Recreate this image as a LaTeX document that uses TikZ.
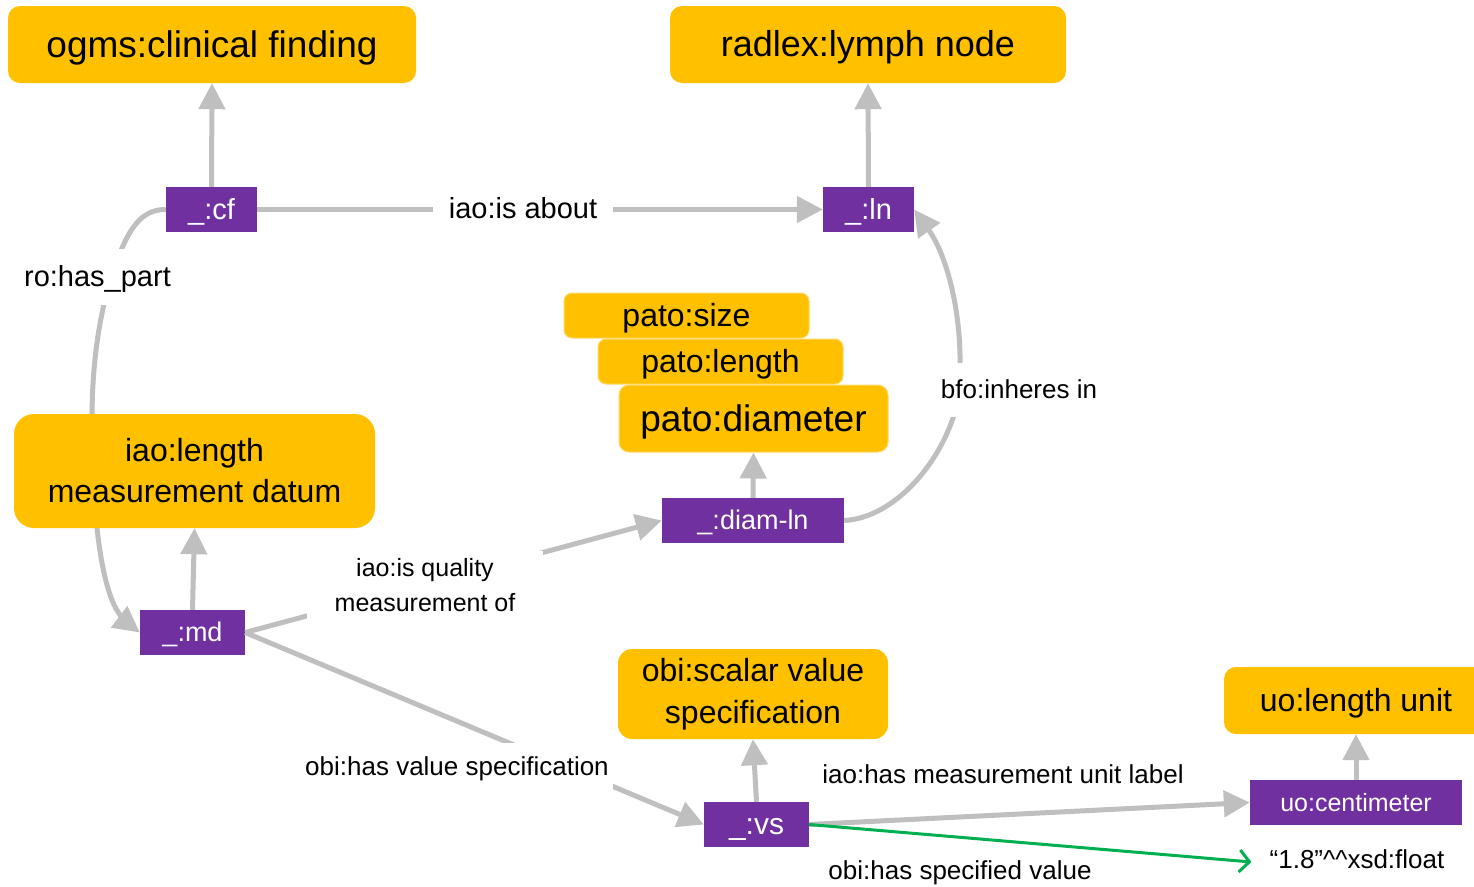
\documentclass[tikz,border=0pt]{standalone}
\usepackage{fontspec}
\setmainfont{Liberation Sans}
\usetikzlibrary{arrows.meta}
\definecolor{gold}{HTML}{FFC000}
\definecolor{goldedge}{HTML}{FFD966}
\definecolor{purp}{HTML}{7030A0}
\definecolor{edgegray}{HTML}{BFBFBF}
\definecolor{grn}{HTML}{00B050}
\tikzset{
  cls/.style={fill=gold, inner sep=0pt, text=black},
  inst/.style={fill=purp, inner sep=0pt, text=white, minimum height=45pt},
  rel/.style={draw=edgegray, line width=5pt, -{Triangle[length=26pt,width=26pt]}},
  greenrel/.style={draw=grn, line width=3pt, -{Straight Barb[length=10pt,width=22pt,line width=3pt]}},
  lab/.style={fill=white, inner sep=0pt, text=black, align=center},
  fs/.style={font=\fontsize{#1}{#1}\selectfont, text height=#1*0.9pt, text depth=#1*0.22pt},
}
\begin{document}
\begin{tikzpicture}[x=1pt,y=-1pt]
\useasboundingbox (0,0) rectangle (1474,886);

% class boxes
\node[cls, rounded corners=12pt, minimum width=408pt, minimum height=77pt, fs=37] (ogms) at (212,44.5) {ogms:clinical finding};
\node[cls, rounded corners=12pt, minimum width=396pt, minimum height=77pt, fs=36] (radlex) at (868,44.5) {radlex:lymph\ node};
\node[cls, rounded corners=8pt, draw=goldedge, line width=1pt, minimum width=245pt, minimum height=45pt, fs=32] (psize) at (686.5,315.5) {pato:size};
\node[cls, rounded corners=8pt, draw=goldedge, line width=1pt, minimum width=245pt, minimum height=45pt, fs=32] (plength) at (720.5,361.5) {pato:length};
\node[cls, rounded corners=10pt, draw=goldedge, line width=1pt, minimum width=269pt, minimum height=67pt, fs=37] (pdiam) at (753.5,418.5) {pato:diameter};
\node[cls, rounded corners=14pt, minimum width=270pt, minimum height=90pt, align=center, font=\fontsize{32}{42}\selectfont] (scalar) at (753,694) {obi:scalar value\\specification};
\node[cls, rounded corners=12pt, minimum width=264pt, minimum height=67pt, fs=32] (lenunit) at (1356,700.5) {uo:length unit};

% instance boxes
\node[inst, minimum width=91pt, fs=29] (cf) at (211.5,209.5) {\_:cf};
\node[inst, minimum width=91pt, fs=29] (ln) at (868.5,209.5) {\_:ln};
\node[inst, minimum width=105pt, fs=27] (md) at (192.5,632.5) {\_:md};
\node[inst, minimum width=182pt, fs=27] (diam) at (753,520.5) {\_:diam-ln};
\node[inst, minimum width=105pt, fs=30] (vs) at (756.5,824.5) {\_:vs};
\node[inst, minimum width=212pt, fs=25] (cm) at (1356,802.5) {uo:centimeter};
\node[inner xsep=18pt, inner ysep=0pt, fs=26] (val) at (1357,860) {“1.8”\textasciicircum\textasciicircum xsd:float};

% ro:has_part curve (behind iao:length box)
\draw[rel] (cf.west) .. controls (140,209) and (128,232) .. (118,258)
  .. controls (100,305) and (92,360) .. (92,420)
  .. controls (92,510) and (100,570) .. (112,600)
  .. controls (117,613) and (126,622) .. (md.west);

\node[cls, rounded corners=20pt, minimum width=361pt, minimum height=114pt, align=center, font=\fontsize{32}{41}\selectfont] (iaolen) at (194.5,471) {iao:length\\measurement datum};

% edges
\draw[rel] (cf.north) -- (ogms.south);
\draw[rel] (ln.north) -- (radlex.south);
\draw[rel] (cf.east) -- (ln.west);
\draw[rel] (md.north) -- (iaolen.south);
\draw[rel] (diam.north) -- (pdiam.south);
\draw[rel] (diam.east) .. controls (895,518) and (945,460) .. (958,400)
  .. controls (966,330) and (950,260) .. (ln.east);
\draw[rel] (md.east) -- (diam.west);
\draw[rel] (md.east) -- (vs.west);
\draw[rel] (vs.north) -- (scalar.south);
\draw[rel] (cm.north) -- (lenunit.south);
\draw[rel] (vs.east) -- (cm.west);
\draw[greenrel] (vs.east) -- ([yshift=-2pt]val.west);

% edge labels
\node[lab, inner xsep=16pt, inner ysep=8pt, fs=29] (lababout) at (523,209) {iao:is about};
\node[lab, inner xsep=6pt, inner ysep=12pt, fs=29] (labpart) at (97.5,277) {ro:has\_part};
\node[lab, inner xsep=4pt, inner ysep=12pt, fs=26] (labinh) at (1019,390) {bfo:inheres in};
\node[lab, inner xsep=28pt, inner ysep=7pt, font=\fontsize{25}{35}\selectfont] (labqual) at (425,585) {iao:is quality\\measurement of};
\node[lab, inner xsep=4pt, inner ysep=9pt, fs=26] (labvalspec) at (457,767) {obi:has value specification};
\node[lab, fill=none, fs=26] (labunit) at (1003,775) {iao:has measurement unit label};
\node[lab, fill=none, fs=26] (labspec) at (960,871) {obi:has specified value};
\end{tikzpicture}
\end{document}
